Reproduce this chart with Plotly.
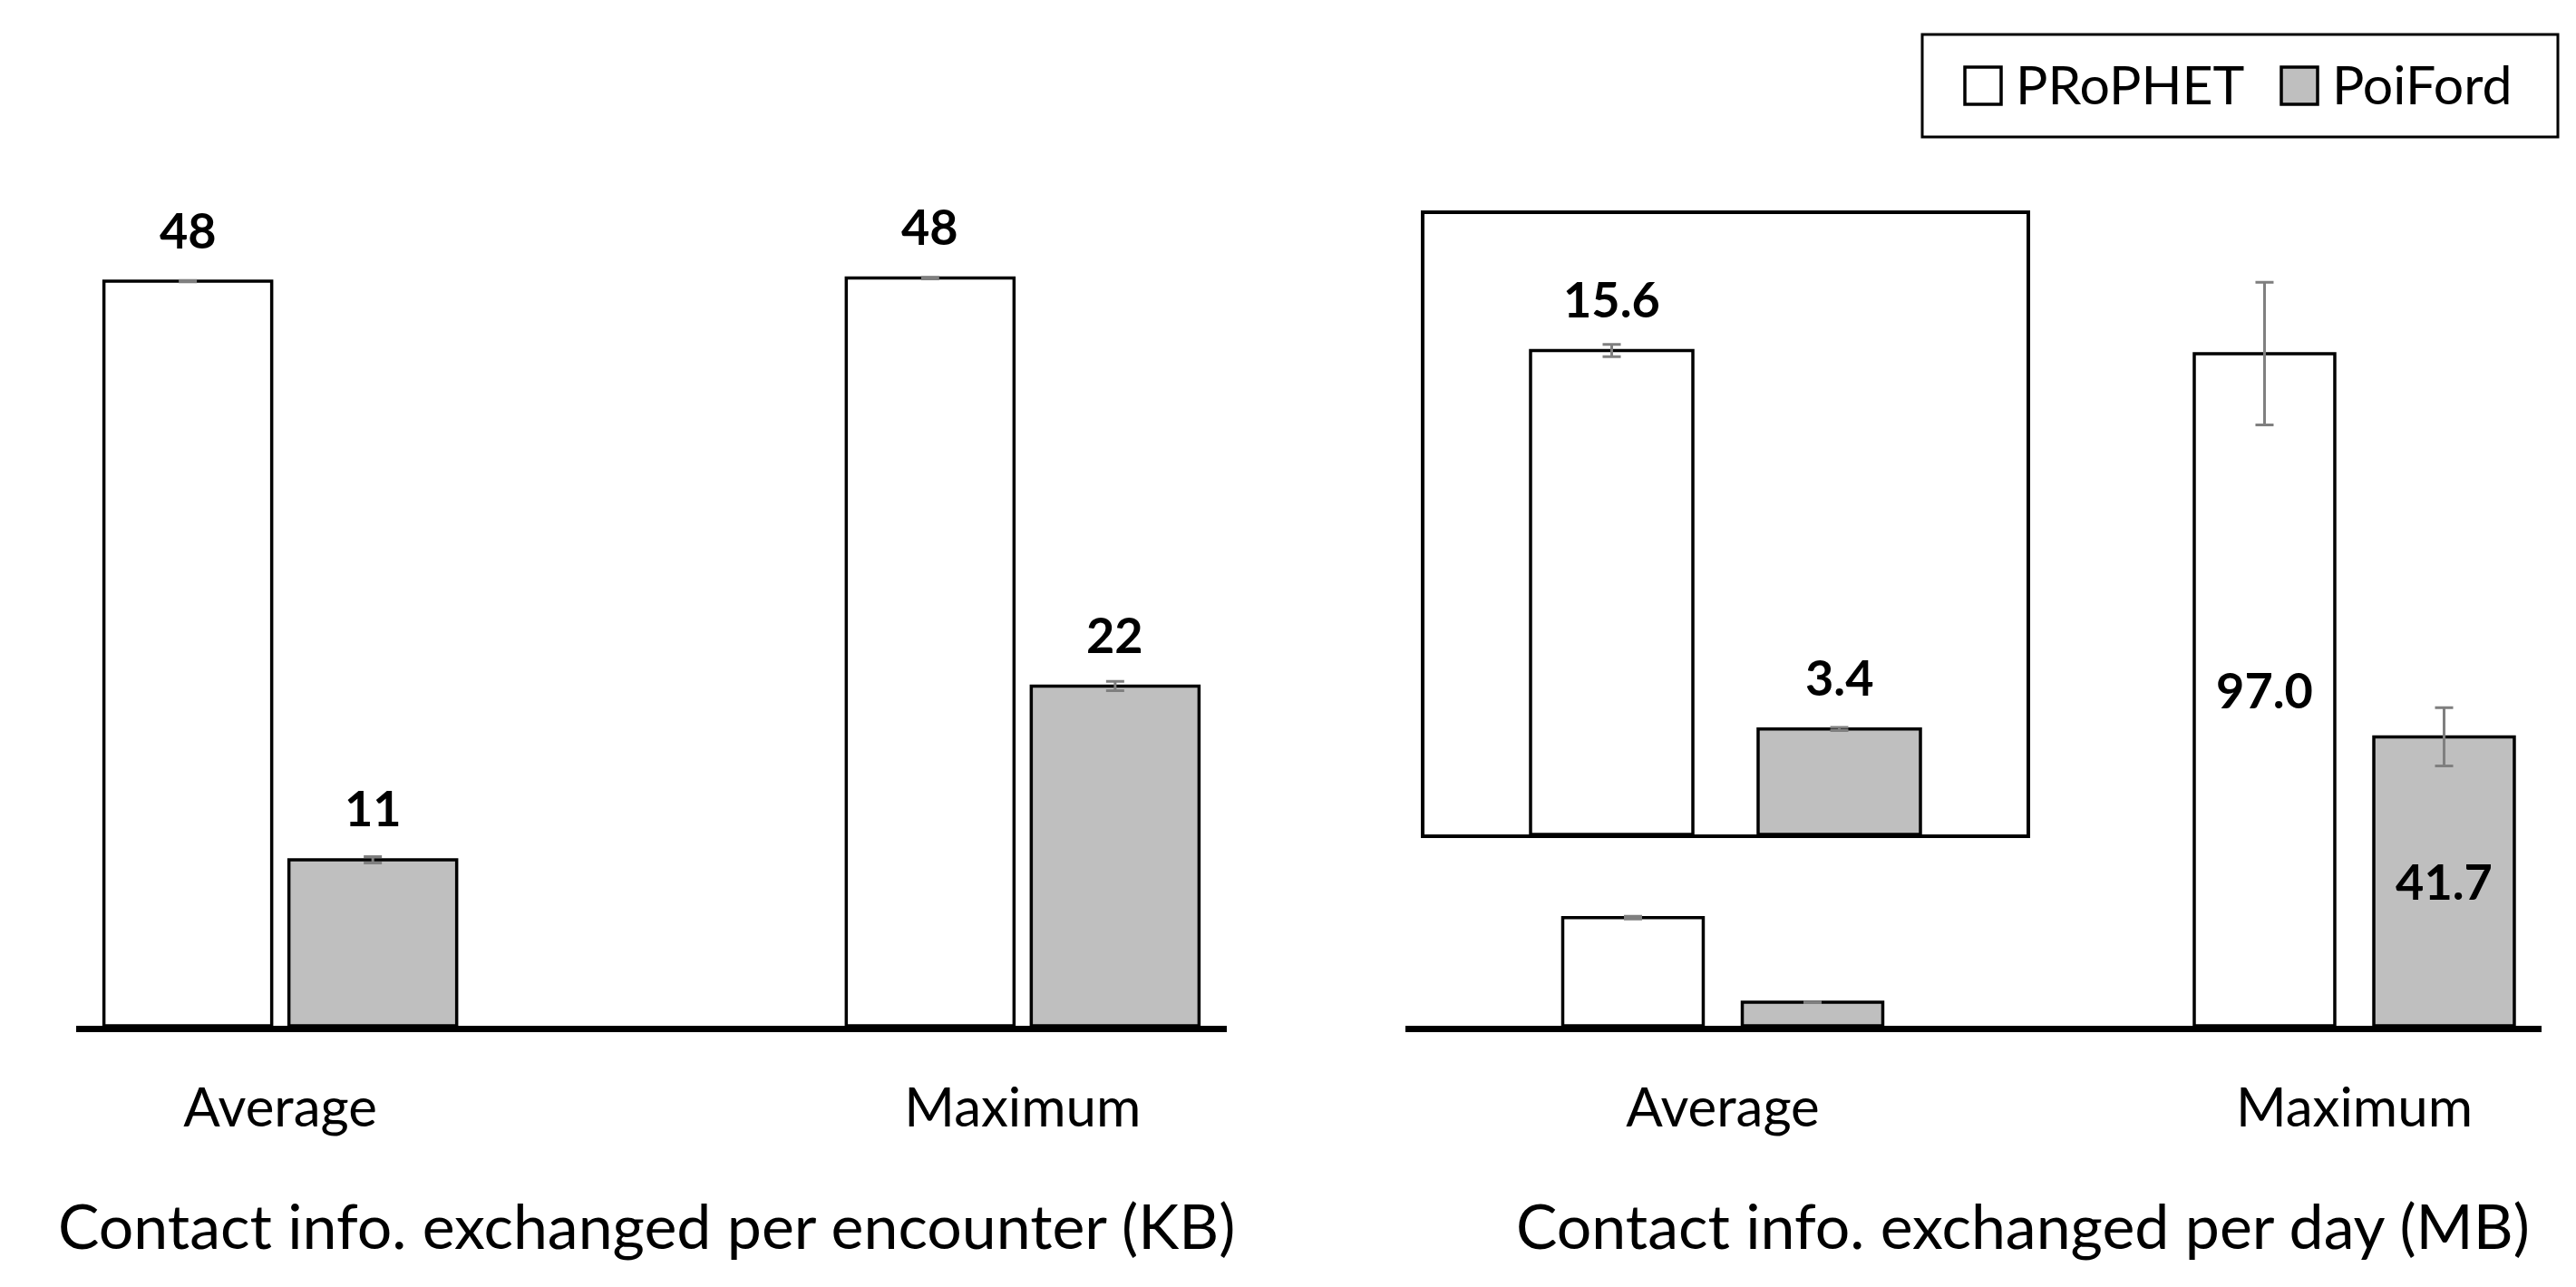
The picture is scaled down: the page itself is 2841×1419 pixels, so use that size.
import plotly.graph_objects as go

categories = ["Average", "Maximum"]
series = ["PRoPHET", "PoiFord"]

# contact info exchanged per encounter (KB)
enc_prophet = [48.0, 48.2]
enc_prophet_err = [0.05, 0.05]
enc_poiford = [10.7, 21.9]
enc_poiford_err = [0.2, 0.3]

# contact info exchanged per day (MB)
day_prophet = [15.6, 97.0]
day_prophet_err = [0.2, 10.3]
day_poiford = [3.4, 41.7]
day_poiford_err = [0.05, 4.2]

W, H = 2841, 1419
FONT = "Lato"
FILL = {"PRoPHET": "white", "PoiFord": "#bfbfbf"}
outline = dict(color="black", width=3.5)
err_style = dict(type="data", color="#7f7f7f", thickness=3, width=10)


def px_x(p):
    return p / W


def px_y(p):
    return 1 - p / H


# bar geometry (category units) for each panel
left_w, left_off = 0.226, [-0.2376, 0.0116]
right_w, right_off = 0.2225, [-0.2534, 0.0309]
inset_w, inset_off = 0.2696, [-0.3238, 0.0542]

fig = go.Figure()

# left panel
for k, (name, vals, errs) in enumerate([("PRoPHET", enc_prophet, enc_prophet_err),
                                        ("PoiFord", enc_poiford, enc_poiford_err)]):
    fig.add_trace(go.Bar(
        x=categories, y=vals, name=name, width=left_w, offset=left_off[k],
        marker=dict(color=FILL[name], line=outline),
        error_y=dict(array=errs, **err_style),
        xaxis="x", yaxis="y", showlegend=False,
    ))

# right panel
for k, (name, vals, errs) in enumerate([("PRoPHET", day_prophet, day_prophet_err),
                                        ("PoiFord", day_poiford, day_poiford_err)]):
    labels = [f"<b>{v:.1f}</b>" if c == "Maximum" else "" for c, v in zip(categories, vals)]
    fig.add_trace(go.Bar(
        x=categories, y=vals, name=name, width=right_w, offset=right_off[k],
        marker=dict(color=FILL[name], line=outline),
        error_y=dict(array=errs, **err_style),
        text=labels, textposition="inside", insidetextanchor="middle", textangle=0,
        textfont=dict(family=FONT, size=54, color="black"), constraintext="none",
        xaxis="x2", yaxis="y2", showlegend=False,
    ))

# inset: zoom on the per-day averages
for k, (name, vals, errs) in enumerate([("PRoPHET", day_prophet, day_prophet_err),
                                        ("PoiFord", day_poiford, day_poiford_err)]):
    fig.add_trace(go.Bar(
        x=categories[:1], y=vals[:1], name=name, width=inset_w, offset=inset_off[k],
        marker=dict(color=FILL[name], line=outline),
        error_y=dict(array=errs[:1], **err_style),
        xaxis="x3", yaxis="y3", showlegend=False,
    ))

annotations = []
lab_font = dict(family=FONT, size=54, color="black")
for k, vals in enumerate([enc_prophet, enc_poiford]):
    for i, v in enumerate(vals):
        annotations.append(dict(
            x=i + left_off[k] + left_w / 2, y=v, xref="x", yref="y",
            text=f"<b>{v:.0f}</b>", showarrow=False, yshift=57,
            yanchor="middle", font=lab_font,
        ))
for k, vals in enumerate([day_prophet, day_poiford]):
    annotations.append(dict(
        x=inset_off[k] + inset_w / 2, y=vals[0], xref="x3", yref="y3",
        text=f"<b>{vals[0]:.1f}</b>", showarrow=False, yshift=57,
        yanchor="middle", font=lab_font,
    ))

title_font = dict(family=FONT, size=68, color="black")
annotations.append(dict(x=0.248, y=px_y(1342), xref="paper", yref="paper", xanchor="center",
                        yanchor="middle", showarrow=False, font=title_font,
                        text="Contact info. exchanged per encounter (KB)"))
annotations.append(dict(x=0.98, y=px_y(1342), xref="paper", yref="paper", xanchor="right",
                        yanchor="middle", showarrow=False, font=title_font,
                        text="Contact info. exchanged per day (MB)"))

# legend drawn as a boxed key in the top-right corner
shapes = [dict(type="rect", xref="paper", yref="paper",
               x0=px_x(2112), x1=px_x(2813), y0=px_y(143), y1=px_y(30),
               line=dict(color="black", width=3), fillcolor="white", layer="above")]
key_x = {"PRoPHET": 2159, "PoiFord": 2508}
for name in series:
    x0 = key_x[name]
    shapes.append(dict(type="rect", xref="paper", yref="paper",
                       x0=px_x(x0), x1=px_x(x0 + 40), y0=px_y(107), y1=px_y(66),
                       line=dict(color="black", width=3.5), fillcolor=FILL[name], layer="above"))
    annotations.append(dict(x=px_x(x0 + 54), y=px_y(84), xref="paper", yref="paper",
                            xanchor="left", yanchor="middle", showarrow=False, text=name,
                            font=dict(family=FONT, size=59, color="black")))

xbase = dict(type="category", showline=True, linecolor="black", linewidth=7,
             ticks="", showgrid=False, zeroline=False,
             tickfont=dict(family=FONT, size=60, color="black"), ticklabelstandoff=32)
ybase = dict(visible=False, showgrid=False, zeroline=False)

base = px_y(1123)
top = px_y(100)

fig.update_layout(
    width=W, height=H,
    margin=dict(l=0, r=0, t=0, b=0),
    paper_bgcolor="white", plot_bgcolor="white",
    font=dict(family=FONT, color="black"),
    showlegend=False,
    xaxis=dict(xbase, domain=[px_x(76), px_x(1345)], range=[-0.275, 1.275], anchor="y"),
    yaxis=dict(ybase, domain=[base, top], range=[0, 59.81], anchor="x"),
    xaxis2=dict(xbase, domain=[px_x(1542), px_x(2795)], range=[-0.5025, 1.2965], anchor="y2"),
    yaxis2=dict(ybase, domain=[base, top], range=[0, 133.9], anchor="x2"),
    xaxis3=dict(type="category", domain=[px_x(1563), px_x(2227)], range=[-0.5, 0.5], anchor="y3",
                showline=True, mirror=True, linecolor="black", linewidth=4,
                showticklabels=False, ticks="", showgrid=False, zeroline=False),
    yaxis3=dict(domain=[px_y(912), px_y(228)], range=[0, 20], anchor="x3",
                showline=True, mirror=True, linecolor="black", linewidth=4,
                showticklabels=False, ticks="", showgrid=False, zeroline=False),
    annotations=annotations,
    shapes=shapes,
)

fig.write_html("out.html")
